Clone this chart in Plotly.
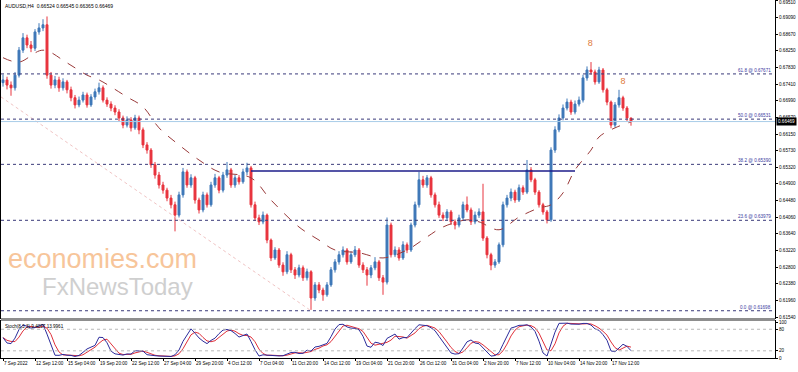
import plotly.graph_objects as go

# ---------------- data (AUDUSD, merged H4 bars) ----------------
first_open = 0.6745
close = [0.6752, 0.6739, 0.6732, 0.6764, 0.6827, 0.6858, 0.6840, 0.6832, 0.6873, 0.6883,
         0.6891, 0.6764, 0.6739, 0.6752, 0.6732, 0.6747, 0.6727, 0.6707, 0.6689, 0.6701,
         0.6714, 0.6689, 0.6709, 0.6722, 0.6732, 0.6701, 0.6691, 0.6681, 0.6671, 0.6656,
         0.6638, 0.6651, 0.6631, 0.6656, 0.6626, 0.6588, 0.6575, 0.6538, 0.6512, 0.6487,
         0.6474, 0.6454, 0.6437, 0.6411, 0.6462, 0.6520, 0.6487, 0.6505, 0.6449, 0.6424,
         0.6462, 0.6437, 0.6487, 0.6505, 0.6474, 0.6512, 0.6525, 0.6487, 0.6505, 0.6495,
         0.6520, 0.6530, 0.6437, 0.6404, 0.6394, 0.6411, 0.6348, 0.6303, 0.6323, 0.6285,
         0.6268, 0.6311, 0.6273, 0.6260, 0.6278, 0.6253, 0.6268, 0.6202, 0.6235, 0.6222,
         0.6210, 0.6235, 0.6273, 0.6293, 0.6311, 0.6323, 0.6293, 0.6311, 0.6323, 0.6285,
         0.6273, 0.6260, 0.6278, 0.6293, 0.6253, 0.6242, 0.6386, 0.6311, 0.6323, 0.6303,
         0.6336, 0.6323, 0.6386, 0.6437, 0.6500, 0.6487, 0.6505, 0.6462, 0.6437, 0.6411,
         0.6404, 0.6419, 0.6394, 0.6386, 0.6404, 0.6437, 0.6424, 0.6394, 0.6411, 0.6419,
         0.6353, 0.6311, 0.6285, 0.6293, 0.6336, 0.6437, 0.6454, 0.6469, 0.6449, 0.6480,
         0.6469, 0.6525, 0.6500, 0.6469, 0.6437, 0.6419, 0.6399, 0.6575, 0.6626, 0.6656,
         0.6681, 0.6696, 0.6671, 0.6691, 0.6701, 0.6757, 0.6777, 0.6772, 0.6747, 0.6777,
         0.6727, 0.6696, 0.6638, 0.6689, 0.6707, 0.6681, 0.6656, 0.66469]
high = [0.6765, 0.6760, 0.6748, 0.6772, 0.6835, 0.6870, 0.6866, 0.6850, 0.6880, 0.6895,
        0.6905, 0.6912, 0.6772, 0.6762, 0.6760, 0.6756, 0.6752, 0.6735, 0.6714, 0.6710,
        0.6722, 0.6720, 0.6716, 0.6730, 0.6745, 0.6738, 0.6708, 0.6698, 0.6688, 0.6678,
        0.6662, 0.6660, 0.6658, 0.6664, 0.6662, 0.6632, 0.6595, 0.6580, 0.6545, 0.6520,
        0.6495, 0.6480, 0.6462, 0.6445, 0.6470, 0.6530, 0.6526, 0.6514, 0.6510, 0.6455,
        0.6470, 0.6468, 0.6495, 0.6515, 0.6510, 0.6520, 0.6545, 0.6530, 0.6512, 0.6512,
        0.6528, 0.6543, 0.6535, 0.6445, 0.6412, 0.6420, 0.6415, 0.6352, 0.6330, 0.6328,
        0.6292, 0.6320, 0.6316, 0.6280, 0.6286, 0.6284, 0.6276, 0.6272, 0.6242, 0.6242,
        0.6228, 0.6242, 0.6280, 0.6300, 0.6320, 0.6332, 0.6328, 0.6320, 0.6333, 0.6328,
        0.6292, 0.6280, 0.6285, 0.6305, 0.6298, 0.6260, 0.6405, 0.6392, 0.6332, 0.6330,
        0.6345, 0.6342, 0.6392, 0.6445, 0.6520, 0.6510, 0.6512, 0.6510, 0.6468, 0.6445,
        0.6418, 0.6426, 0.6424, 0.6400, 0.6412, 0.6445, 0.6458, 0.6430, 0.6420, 0.6428,
        0.6490, 0.6358, 0.6316, 0.6300, 0.6342, 0.6445, 0.6462, 0.6478, 0.6475, 0.6488,
        0.6486, 0.6550, 0.6532, 0.6505, 0.6474, 0.6442, 0.6424, 0.6582, 0.6635, 0.6665,
        0.6690, 0.6705, 0.6702, 0.6700, 0.6710, 0.6765, 0.6786, 0.6797, 0.6778, 0.6785,
        0.6782, 0.6732, 0.6700, 0.6696, 0.6727, 0.6712, 0.6686, 0.66545]
low = [0.6735, 0.6728, 0.6712, 0.6725, 0.6758, 0.6820, 0.6832, 0.6822, 0.6825, 0.6866,
       0.6875, 0.6755, 0.6730, 0.6731, 0.6722, 0.6725, 0.6718, 0.6698, 0.6680, 0.6683,
       0.6695, 0.6682, 0.6684, 0.6702, 0.6715, 0.6695, 0.6684, 0.6673, 0.6663, 0.6648,
       0.6630, 0.6632, 0.6622, 0.6626, 0.6615, 0.6580, 0.6566, 0.6530, 0.6503, 0.6478,
       0.6465, 0.6446, 0.6428, 0.6370, 0.6405, 0.6455, 0.6480, 0.6480, 0.6440, 0.6415,
       0.6418, 0.6430, 0.6432, 0.6480, 0.6466, 0.6468, 0.6505, 0.6480, 0.6480, 0.6488,
       0.6490, 0.6512, 0.6430, 0.6396, 0.6386, 0.6388, 0.6340, 0.6295, 0.6298, 0.6278,
       0.6258, 0.6262, 0.6265, 0.6250, 0.6254, 0.6245, 0.6246, 0.6172, 0.6195, 0.6214,
       0.6195, 0.6205, 0.6230, 0.6266, 0.6286, 0.6304, 0.6286, 0.6288, 0.6305, 0.6278,
       0.6265, 0.6233, 0.6252, 0.6272, 0.6245, 0.6210, 0.6236, 0.6304, 0.6305, 0.6296,
       0.6298, 0.6315, 0.6318, 0.6380, 0.6430, 0.6480, 0.6480, 0.6455, 0.6430, 0.6404,
       0.6396, 0.6398, 0.6386, 0.6375, 0.6380, 0.6398, 0.6418, 0.6386, 0.6388, 0.6404,
       0.6346, 0.6302, 0.6272, 0.6278, 0.6288, 0.6330, 0.6430, 0.6446, 0.6442, 0.6444,
       0.6462, 0.6464, 0.6494, 0.6462, 0.6430, 0.6412, 0.6390, 0.6394, 0.6568, 0.6620,
       0.6650, 0.6675, 0.6664, 0.6665, 0.6685, 0.6695, 0.6750, 0.6765, 0.6740, 0.6742,
       0.6720, 0.6688, 0.6630, 0.6632, 0.6682, 0.6674, 0.6648, 0.66365]

# moving average (bar index, value)
ma_idx = [0, 4, 10, 16, 21, 24, 31, 35, 39, 44, 49, 54, 62, 67, 74, 79, 83, 89, 95, 101,
          106, 110, 116, 119, 124, 129, 134, 137, 140, 143, 147, 149, 153, 157]
ma_val = [0.6808, 0.6797, 0.6827, 0.6795, 0.6764, 0.6752, 0.6709, 0.6684, 0.6631, 0.6588,
          0.6550, 0.6520, 0.6505, 0.6449, 0.6381, 0.6348, 0.6323, 0.6316, 0.6303, 0.6323,
          0.6356, 0.6381, 0.6399, 0.6394, 0.6374, 0.6406, 0.6429, 0.6437, 0.6467, 0.6525,
          0.6575, 0.6608, 0.6631, 0.6646]

# Fibonacci retracement
fib_low = 0.61698
fib_high = 0.71363
fib_pcts = [61.8, 50.0, 38.2, 23.6, 0.0]
fib_low_bar = 77
fib_line_start = (-0.5, 0.6709)

# horizontal resistance line
res_level = 0.65222
res_from, res_to = 62, 143

# markers "8"
mark_bars = [146.8, 155]
mark_prices = [0.6843, 0.6747]

price_ticks = [0.69510, 0.69090, 0.68670, 0.68250, 0.67830, 0.67410, 0.66990, 0.66570,
               0.66150, 0.65730, 0.65320, 0.64900, 0.64480, 0.64060, 0.63640, 0.63220,
               0.62800, 0.62380, 0.61960, 0.61540]
stoch_ticks = [100, 80, 20, 0]
date_labels = ["7 Sep 2022", "12 Sep 12:00", "15 Sep 04:00", "19 Sep 20:00", "22 Sep 12:00",
               "27 Sep 04:00", "29 Sep 20:00", "4 Oct 12:00", "7 Oct 04:00", "11 Oct 20:00",
               "14 Oct 12:00", "19 Oct 04:00", "21 Oct 20:00", "26 Oct 12:00", "31 Oct 04:00",
               "2 Nov 20:00", "7 Nov 12:00", "10 Nov 04:00", "14 Nov 20:00", "17 Nov 12:00"]
date_step = 8
title_text = "AUDUSD,H4  0.66524 0.66545 0.66365 0.66469"
stoch_params = (8, 3, 3)
stoch_text = "Stoch(8,3,3) 9.4037 13.9961"

# ---------------- derived ----------------
n = len(close)
bars = list(range(n))
open_ = [first_open] + close[:-1]


def stochastic(h, l, c, k, slow, d):
    num, den = [], []
    for i in range(len(c)):
        lo = min(l[max(0, i - k + 1):i + 1])
        hi = max(h[max(0, i - k + 1):i + 1])
        num.append(c[i] - lo)
        den.append(hi - lo)
    K = []
    for i in range(len(c)):
        s = slice(max(0, i - slow + 1), i + 1)
        dd = sum(den[s])
        K.append(100 * sum(num[s]) / dd if dd else 50)
    D = []
    for i in range(len(c)):
        w = K[max(0, i - d + 1):i + 1]
        D.append(sum(w) / len(w))
    return K, D


stK, stD = stochastic(high, low, close, *stoch_params)

FONT = "Liberation Sans"
W, H = 798, 372
XR = [-0.5, 193.0]
YR = [0.61515, 0.69535]
TK = 4.6  # small text size

fig = go.Figure()

# fib diagonal
fig.add_trace(go.Scatter(x=[fib_line_start[0], fib_low_bar], y=[fib_line_start[1], fib_low],
                         mode="lines", line=dict(color="#f0c4c4", width=1, dash="dot"),
                         hoverinfo="skip", showlegend=False))

# fib levels
for p in fib_pcts:
    lv = fib_low + (fib_high - fib_low) * p / 100
    fig.add_shape(type="line", xref="paper", x0=0, x1=1, yref="y", y0=lv, y1=lv,
                  line=dict(color="#3a3a7a", width=1, dash="dot"))
    fig.add_annotation(xref="paper", x=0.997, yref="y", y=lv, text=f"{p:.1f} @ {lv:.5f}",
                       showarrow=False, xanchor="right", yanchor="bottom", yshift=-1,
                       font=dict(family=FONT, size=TK, color="#3a3aa0"))

# current price line
fig.add_shape(type="line", xref="paper", x0=0, x1=1, yref="y", y0=close[-1], y1=close[-1],
              line=dict(color="#a8cce8", width=1))

# resistance
fig.add_trace(go.Scatter(x=[res_from, res_to], y=[res_level, res_level], mode="lines",
                         line=dict(color="#1c1c8a", width=1.5), hoverinfo="skip",
                         showlegend=False))

# MA
fig.add_trace(go.Scatter(x=ma_idx, y=ma_val, mode="lines",
                         line=dict(color="#9a3a3a", width=1, dash="dash", shape="spline"),
                         hoverinfo="skip", showlegend=False))

# candles
fig.add_trace(go.Candlestick(
    x=bars, open=open_, high=high, low=low, close=close,
    increasing=dict(line=dict(color="#3f78b8", width=1), fillcolor="#3f78b8"),
    decreasing=dict(line=dict(color="#e8343e", width=1), fillcolor="#e8343e"),
    whiskerwidth=0, showlegend=False))

# "8" markers
fig.add_trace(go.Scatter(x=mark_bars, y=mark_prices, mode="text", text=["8", "8"],
                         textfont=dict(family=FONT, size=9, color="#e07a3a"),
                         showlegend=False, hoverinfo="skip"))

# stochastic
fig.add_trace(go.Scatter(x=bars, y=stD, mode="lines", line=dict(color="#e0303a", width=1),
                         xaxis="x2", yaxis="y2", showlegend=False, hoverinfo="skip"))
fig.add_trace(go.Scatter(x=bars, y=stK, mode="lines", line=dict(color="#2c2c9c", width=1),
                         xaxis="x2", yaxis="y2", showlegend=False, hoverinfo="skip"))
for lv in (20, 80):
    fig.add_shape(type="line", xref="paper", x0=0, x1=1, yref="y2", y0=lv, y1=lv,
                  line=dict(color="#b8b8b8", width=1, dash="dot"))

# panel separator
MAIN_BOTTOM = (358 - 318) / 358
ST_TOP = (358 - 321) / 358
fig.add_shape(type="rect", xref="paper", yref="paper", x0=0, x1=1, y0=ST_TOP, y1=MAIN_BOTTOM,
              fillcolor="#8e8e8e", line=dict(width=0), layer="above")

# right axis labels (kept inside the page at the top edge)
for v in price_ticks:
    near_top = (YR[1] - v) < 0.0004
    fig.add_annotation(xref="paper", x=1.0, yref="y", y=v, text=f"{v:.5f}", showarrow=False,
                       xanchor="left", xshift=2, yshift=-2 if near_top else 0,
                       font=dict(family=FONT, size=TK, color="#000000"))
for v in stoch_ticks:
    fig.add_annotation(xref="paper", x=1.0, yref="y2", y=v, text=str(v), showarrow=False,
                       xanchor="left", xshift=2, font=dict(family=FONT, size=TK, color="#000000"))

# price box
fig.add_annotation(xref="paper", x=1.0, yref="y", y=close[-1], text=f"{close[-1]:.5f}",
                   showarrow=False, xanchor="left", xshift=1, bgcolor="#000000",
                   font=dict(family=FONT, size=TK, color="#ffffff"), borderpad=1)

# titles
fig.add_annotation(xref="paper", yref="paper", x=0.003, y=0.997, text=title_text,
                   showarrow=False, xanchor="left", yanchor="top",
                   font=dict(family=FONT, size=5, color="#000000"))
fig.add_annotation(xref="paper", yref="paper", x=0.003, y=ST_TOP - 0.004, text=stoch_text,
                   showarrow=False, xanchor="left", yanchor="top",
                   font=dict(family=FONT, size=TK, color="#000000"))

# watermark
fig.add_annotation(xref="paper", yref="paper", x=0.007, y=(358 - 276) / 358,
                   text="economies.com", showarrow=False, xanchor="left", yanchor="bottom",
                   font=dict(family=FONT, size=27, color="#f7c59a"))
fig.add_annotation(xref="paper", yref="paper", x=0.051, y=(358 - 271) / 358,
                   text="FxNewsToday", showarrow=False, xanchor="left", yanchor="top",
                   font=dict(family=FONT, size=24, color="#cfcfcf"))

# date labels
for k, lab in enumerate(date_labels):
    fig.add_annotation(xref="x2", x=k * date_step - 0.25, yref="paper", y=0, text=lab,
                       showarrow=False, xanchor="left", yanchor="top", yshift=-1,
                       font=dict(family=FONT, size=TK, color="#000000"))

fig.update_layout(
    width=W, height=H, margin=dict(l=1, r=23, t=0, b=14, autoexpand=False),
    paper_bgcolor="#ffffff", plot_bgcolor="#ffffff",
    font=dict(family=FONT, size=5, color="#000000"),
    xaxis=dict(domain=[0, 1], anchor="y", range=XR, showgrid=False, zeroline=False,
               showticklabels=False, ticks="", showline=True, linecolor="#000000",
               linewidth=1, mirror=True, rangeslider=dict(visible=False), automargin=False),
    yaxis=dict(domain=[MAIN_BOTTOM, 1], range=YR, side="right",
               tickvals=price_ticks, showticklabels=False,
               ticks="outside", ticklen=2, tickcolor="#000000", showgrid=False,
               zeroline=False, showline=True, linecolor="#000000", linewidth=1, mirror=True,
               automargin=False),
    xaxis2=dict(domain=[0, 1], anchor="y2", matches="x", range=XR, showgrid=False,
                zeroline=False, tickvals=[k * date_step for k in range(len(date_labels))],
                showticklabels=False, ticks="outside", ticklen=2,
                tickcolor="#000000", showline=True, linecolor="#000000", linewidth=1,
                mirror=True, automargin=False),
    yaxis2=dict(domain=[0, ST_TOP], range=[0, 103], side="right", tickvals=stoch_ticks,
                showticklabels=False, ticks="outside", ticklen=2,
                tickcolor="#000000", showgrid=False, zeroline=False, showline=True,
                linecolor="#000000", linewidth=1, mirror=True, automargin=False),
)

fig.write_html("out.html", config={"displayModeBar": False},
               post_script="document.body.style.margin='0px';document.body.style.overflow='hidden';")
